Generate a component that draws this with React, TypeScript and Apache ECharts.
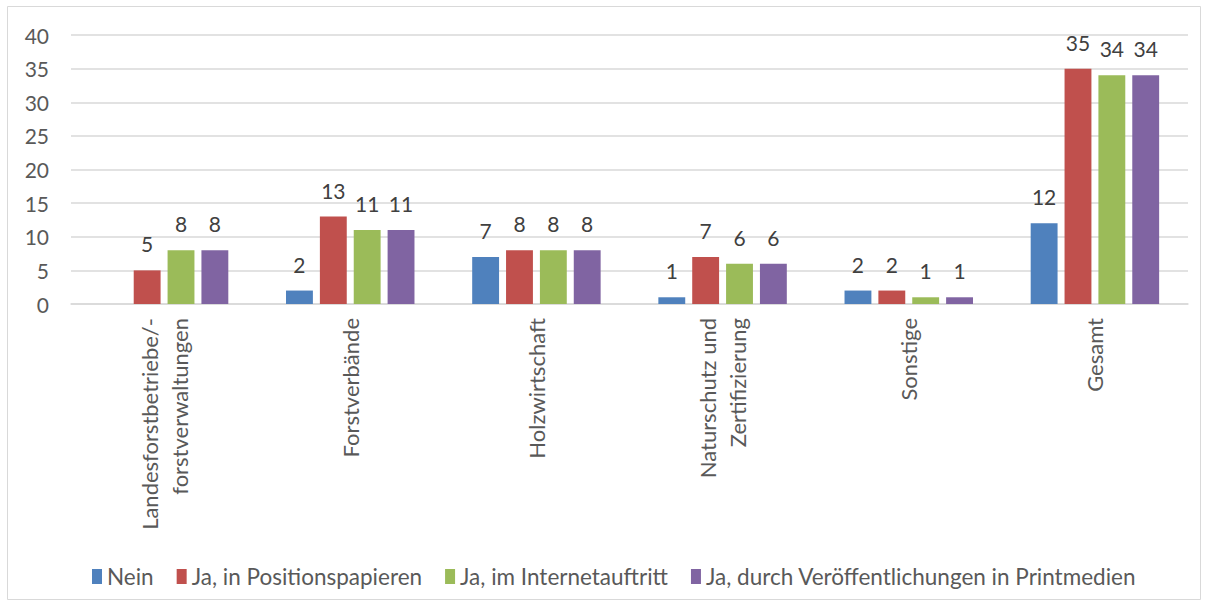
import React, { useEffect, useRef } from "react";
import * as echarts from "echarts";

const categories = [
  "Landesforstbetriebe/-\nforstverwaltungen",
  "Forstverbände",
  "Holzwirtschaft",
  "Naturschutz und\nZertifizierung",
  "Sonstige",
  "Gesamt",
];
const seriesNames = [
  "Nein",
  "Ja, in Positionspapieren",
  "Ja, im Internetauftritt",
  "Ja, durch Veröffentlichungen in Printmedien",
];
const nein = [null, 2, 7, 1, 2, 12];
const positionspapiere = [5, 13, 8, 7, 2, 35];
const internet = [8, 11, 8, 6, 1, 34];
const printmedien = [8, 11, 8, 6, 1, 34];
const colors = ["#4F81BD", "#C0504D", "#9BBB59", "#8064A2"];

const FONT = "Lato, 'Open Sans', sans-serif";

export default function App() {
  const ref = useRef<HTMLDivElement>(null);
  useEffect(() => {
    document.body.style.margin = "0";
    const chart = echarts.init(ref.current!, null, { renderer: "svg" });
    const data = [nein, positionspapiere, internet, printmedien];
    chart.setOption({
      animation: false,
      backgroundColor: "#fff",
      textStyle: { fontFamily: FONT },
      graphic: [
        {
          type: "rect",
          shape: { x: 7.5, y: 6.5, width: 1193, height: 593 },
          style: { fill: "none", stroke: "#D9D9D9", lineWidth: 1 },
          silent: true,
        },
      ],
      grid: { left: 71, right: 21, top: 35, bottom: 303, containLabel: false },
      legend: {
        data: seriesNames,
        left: 87,
        top: 560,
        itemWidth: 10,
        itemHeight: 15,
        itemGap: 23,
        icon: "rect",
        textStyle: { fontSize: 22.5, color: "#595959", fontFamily: FONT },
      },
      xAxis: {
        type: "category",
        data: categories,
        axisLine: { lineStyle: { color: "#D9D9D9", width: 1.5 } },
        axisTick: { show: false },
        axisLabel: {
          rotate: 90,
          interval: 0,
          color: "#595959",
          fontSize: 22,
          lineHeight: 30,
          margin: 14,
          fontFamily: FONT,
        },
      },
      yAxis: {
        type: "value",
        min: 0,
        max: 40,
        interval: 5,
        axisLine: { show: false },
        axisTick: { show: false },
        splitLine: { lineStyle: { color: "#D9D9D9", width: 1.5 } },
        axisLabel: { color: "#595959", fontSize: 21, margin: 22, fontFamily: FONT },
      },
      series: seriesNames.map((name, i) => ({
        name,
        type: "bar",
        data: data[i],
        itemStyle: { color: colors[i] },
        barGap: "26%",
        barCategoryGap: "31%",
        label: {
          show: true,
          position: "top",
          distance: 16,
          color: "#404040",
          fontSize: 21,
          fontFamily: FONT,
        },
      })),
    });
    return () => chart.dispose();
  }, []);
  return <div ref={ref} style={{ width: 1209, height: 607 }} />;
}
